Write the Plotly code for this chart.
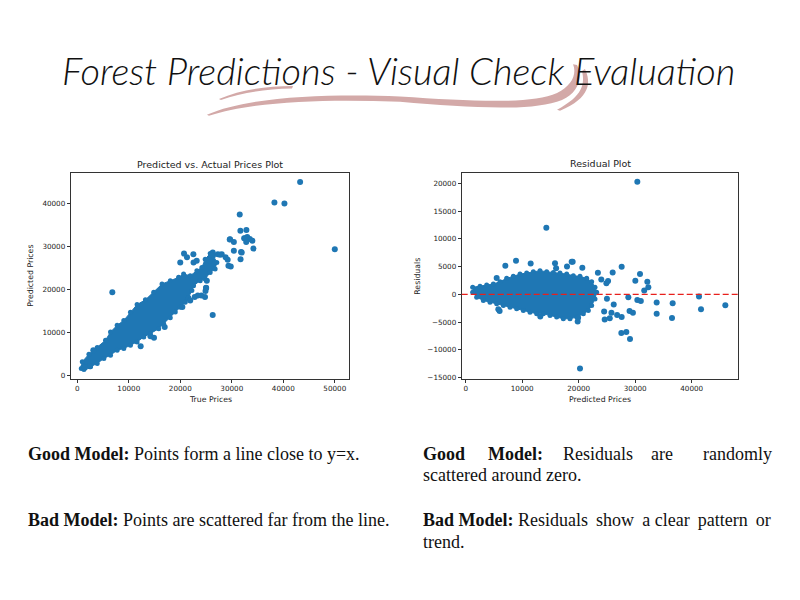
import plotly.graph_objects as go

W, H = 800, 600
OFFX, OFFY = 8, 5.5  # the page body shifts the plot a little
BLUE = '#1f77b4'
PINK = '#d3a9a8'

# --- data ---
# dense core of the predicted-vs-true cloud (outline), true price / predicted price
pred_blob_true = [774, 968, 2258, 3870, 5483, 6450, 7740, 9030, 10320, 11610, 13223, 14835, 16448, 18060,
                  19673, 20640, 21930, 23220, 24188, 24833, 25800, 26445, 27090, 26768, 25800, 24833, 23865,
                  22575, 22253, 21608, 20963, 19995, 19028, 18060, 16770, 15803, 14190, 12900, 11610, 10320,
                  9030, 7740, 6450, 5160, 3870, 2580, 1290]
pred_blob_pred = [1702, 3243, 5016, 6557, 8253, 10179, 11721, 12877, 14759, 16577, 17656, 19428, 21355, 22125,
                  22896, 23667, 23282, 24438, 25209, 27135, 28445, 27906, 26365, 24823, 24052, 22511, 22125,
                  20970, 19813, 18272, 17116, 15960, 14804, 13494, 12106, 10950, 9794, 9024, 7868, 7097,
                  6326, 5941, 4785, 4015, 2858, 2088, 1470]
# scattered points outside the core
pred_pts_true = [43266, 38279, 40222, 50000, 31543, 31672, 32838, 32400, 33000, 33500, 32800, 34000, 34200,
                 31800, 31700, 29600, 30400, 30400, 29800, 29200, 28800, 28045, 27300, 26300, 26100, 25700,
                 22540, 20726, 21300, 23188, 6800, 26296, 16970, 14897, 12306, 3109, 24100, 23400, 24800,
                 25000, 24900, 22800, 21600, 20400, 14200, 2400, 1200, 1500, 29670, 32573, 31928, 29348,
                 27735, 19995, 22575, 25155, 25026, 21930]
pred_pts_pred = [45086, 40308, 40076, 29441, 37533, 33757, 33911, 32000, 32300, 31800, 31100, 31400, 29600,
                 28800, 27100, 31700, 31100, 29100, 25400, 27000, 27600, 28285, 28300, 28700, 27900, 26800,
                 28285, 28439, 27600, 26743, 19422, 14104, 11329, 8863, 6859, 5934, 18650, 18700, 18300,
                 20500, 19700, 18300, 17900, 16000, 9200, 2200, 2100, 1900, 31759, 31990, 28677, 25594,
                 28137, 26365, 26365, 22125, 20430, 17502]

# dense core of the residual cloud (outline), predicted price / residual
res_blob_pred = [1233, 2531, 3711, 4891, 6071, 7251, 8431, 9611, 10791, 11971, 13151, 14331, 15511, 16691,
                 17871, 19051, 20231, 21411, 22296, 22886, 23181, 22886, 22296, 21706, 20821, 19641, 18461,
                 17281, 16101, 14921, 13741, 12561, 11381, 10201, 9021, 7841, 6661, 5481, 4301, 3121, 1941, 1233]
res_blob_res = [1280, 1459, 1697, 1876, 2294, 2890, 3248, 3665, 3844, 4082, 4261, 4082, 3963, 3844,
                3665, 3367, 3248, 2890, 2294, 1280, 386, -807, -2000, -2893, -3490, -4086, -4384,
                -4384, -4086, -3788, -3490, -3490, -3191, -2893, -2595, -2297, -2000, -1701, -1403, -1105, -508, 386]
res_pts_pred = [30379, 14272, 20231, 8903, 11499, 7015, 15806, 18933, 17930, 20644, 26013, 27606, 30851,
                30025, 32149, 32326, 24000, 25200, 28786, 30379, 31000, 33801, 36633, 41294, 41648, 45955,
                33801, 36515, 29000, 29600, 27606, 26800, 27547, 28432, 29081, 25500, 24600, 19818, 5776,
                5481, 25000, 26200, 24500, 25800, 18756, 16000, 23400, 24900, 6000, 13200, 19900, 31600]
res_pts_res = [20298, 12010, -13328, 6048, 5571, 5154, 5631, 5871, 5010, 4796, 3962, 4975, 3664,
               2471, 2292, 1279, 2700, 2400, -509, -986, -1200, -1463, -1583, -390, -2657, -1941,
               -3490, -4266, -3000, -3300, -4087, -3700, -6948, -6769, -8022, -4300, -4500, -4862, -2657,
               2948, -800, -1800, -3100, -3300, 5871, 4700, 3900, 2000, -3000, -4000, -4200, 700]

pred_xticks = [0, 10000, 20000, 30000, 40000, 50000]
pred_yticks = [0, 10000, 20000, 30000, 40000]
res_xticks = [0, 10000, 20000, 30000, 40000]
res_yticks = [-15000, -10000, -5000, 0, 5000, 10000, 15000, 20000]


def px(x):
    return (x - OFFX) / W


def py(y):
    return 1 - (y - OFFY) / H


def path(cmds):
    # cmds: list of (letter, [(x, y), ...]) in pixel coordinates
    out = []
    for c, pts in cmds:
        out.append(c + ' ' + ' '.join(f'{px(x):.4f},{py(y):.4f}' for x, y in pts))
    return ' '.join(out) + ' Z'


fig = go.Figure()

for xa, ya, bx, by, ox, oy in [('x', 'y', pred_blob_true, pred_blob_pred, pred_pts_true, pred_pts_pred),
                               ('x2', 'y2', res_blob_pred, res_blob_res, res_pts_pred, res_pts_res)]:
    fig.add_trace(go.Scatter(x=bx, y=by, xaxis=xa, yaxis=ya, mode='lines+markers', fill='toself',
                             fillcolor=BLUE, line=dict(color=BLUE, width=1),
                             marker=dict(color=BLUE, size=5), hoverinfo='skip'))
    fig.add_trace(go.Scatter(x=ox, y=oy, xaxis=xa, yaxis=ya, mode='markers',
                             marker=dict(color=BLUE, size=6, line=dict(width=0))))

ax = dict(showline=True, mirror=True, linecolor='#333', linewidth=1, ticks='outside', ticklen=3,
          tickwidth=1, tickcolor='#333', showgrid=False, zeroline=False, tickformat='d',
          tickfont=dict(family='DejaVu Sans', size=7.2, color='#222'))
fig.update_layout(
    width=W, height=H, margin=dict(l=0, r=0, t=0, b=0), showlegend=False,
    paper_bgcolor='white', plot_bgcolor='white',
    xaxis=dict(ax, domain=[px(70.7), px(349)], range=[-1280, 52760], tickvals=pred_xticks, anchor='y'),
    yaxis=dict(ax, domain=[py(378.7), py(171.7)], range=[-700, 47170], tickvals=pred_yticks, anchor='x'),
    xaxis2=dict(ax, domain=[px(461.7), px(738.3)], range=[-708, 48250], tickvals=res_xticks, anchor='y2'),
    yaxis2=dict(ax, domain=[py(378.7), py(171.7)], range=[-15179, 21842], tickvals=res_yticks, anchor='x2'),
)

# zero line of the residual plot
fig.add_shape(type='line', xref='x2 domain', yref='y2', x0=0, x1=1, y0=0, y1=0,
              line=dict(color='#e8201c', width=1.2, dash='6px,3px'), layer='above')

# brush swoosh under the title
swooshes = [
    [('M', [(207, 113)]), ('C', [(250, 94), (330, 92), (400, 94.5)]), ('C', [(470, 99), (530, 103), (557, 91)]),
     ('C', [(572, 84), (577, 72), (573, 62)]), ('L', [(577, 63)]), ('C', [(583, 74), (579, 91), (562, 98)]),
     ('C', [(532, 110), (470, 106), (400, 100)]), ('C', [(330, 97), (255, 99), (209, 114)])],
    [('M', [(219, 97)]), ('C', [(240, 88), (265, 84), (293, 84)]), ('L', [(292, 86.5)]),
     ('C', [(265, 87), (242, 91), (221, 98)])],
    [('M', [(585, 67)]), ('C', [(591, 80), (591, 96), (560, 109)]), ('L', [(557, 108)]),
     ('C', [(583, 94), (585, 82), (582, 69)])],
]
for s in swooshes:
    fig.add_shape(type='path', xref='paper', yref='paper', path=path(s),
                  fillcolor=PINK, line=dict(width=0), layer='below')


def note(text, x, y, size=8, anchor='center', angle=0, family='DejaVu Sans', color='#222', **kw):
    fig.add_annotation(text=text, x=px(x), y=py(y), xref='paper', yref='paper', showarrow=False,
                       xanchor=anchor, yanchor='middle', textangle=angle,
                       font=dict(family=family, size=size, color=color, **kw))


note('Forest Predictions - Visual Check Evaluation', 398, 68, size=38, family='Lato',
     color='#111', style='italic', weight=300)

note('Predicted vs. Actual Prices Plot', 210, 163, size=9.5)
note('Residual Plot', 600, 162, size=9.5)
note('True Prices', 210, 400, size=7.8)
note('Predicted Prices', 600, 400, size=7.8)
note('Predicted Prices', 31, 275, size=7.8, angle=-90)
note('Residuals', 418, 275, size=7.8, angle=-90)

SERIF = 'Liberation Serif'
TS = 18
note('<b>Good Model:</b> Points form a line close to y=x.', 26, 454, size=TS, anchor='left', family=SERIF, color='#111')
note('<b>Bad Model:</b> Points are scattered far from the line.', 26, 521, size=TS, anchor='left', family=SERIF, color='#111')

# justified right-hand paragraph: full lines spread out to the right edge
for txt, x in [('<b>Good</b>', 421), ('<b>Model:</b>', 486), ('Residuals', 561), ('are', 649)]:
    note(txt, x, 454, size=TS, anchor='left', family=SERIF, color='#111')
note('randomly', 774, 454, size=TS, anchor='right', family=SERIF, color='#111')
note('scattered around zero.', 421, 476, size=TS, anchor='left', family=SERIF, color='#111')
note('<b>Bad Model:</b> Residuals\u2009 show\u2009 a clear\u2009 pattern\u2009 or', 421, 521, size=TS,
     anchor='left', family=SERIF, color='#111')
note('trend.', 421, 543, size=TS, anchor='left', family=SERIF, color='#111')

fig.write_html('out.html')
